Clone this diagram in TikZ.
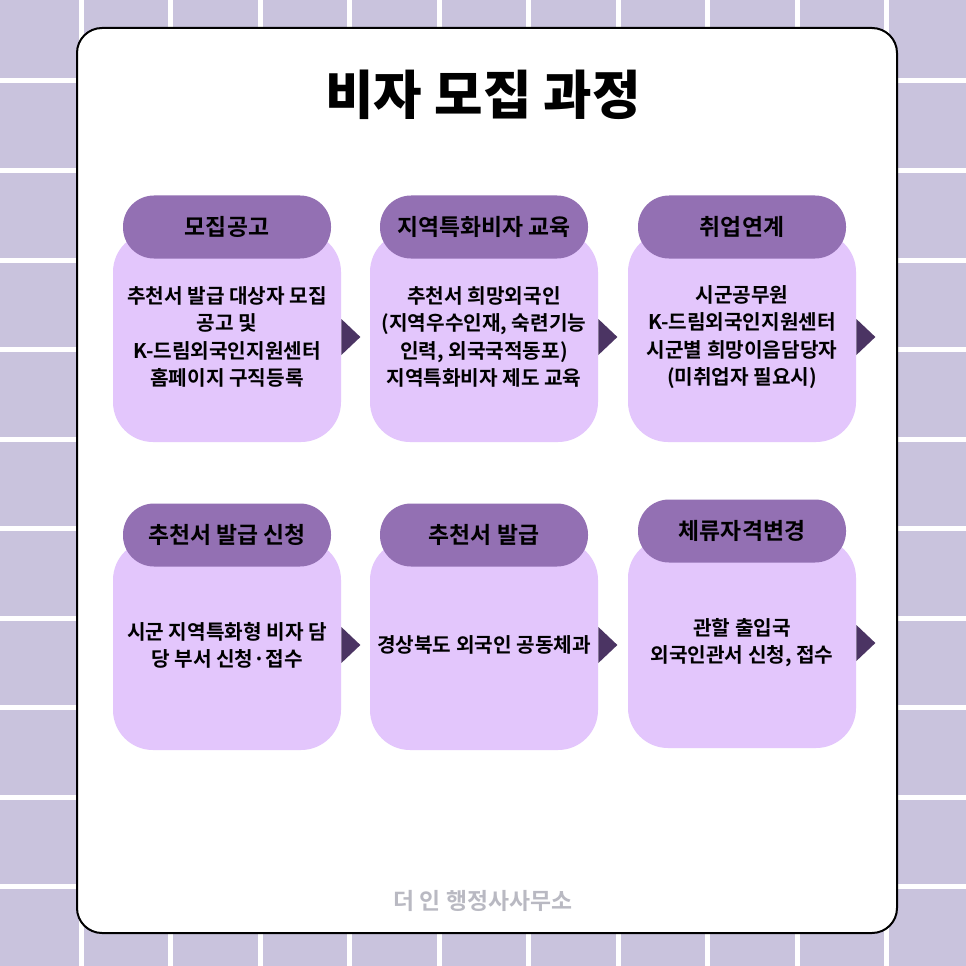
\documentclass[tikz,border=0pt]{standalone}
\usepackage{fontspec}
\setmainfont{Noto Sans CJK KR}[BoldFont={Noto Sans CJK KR Bold}]
\newfontfamily\heavyfont{Noto Sans CJK KR Black}
\usetikzlibrary{positioning}
\definecolor{tile}{HTML}{C9C3DD}
\definecolor{pill}{HTML}{9370B3}
\definecolor{card}{HTML}{E3C6FC}
\definecolor{tip}{HTML}{4B3463}
\definecolor{foot}{HTML}{B9B9C2}
\tikzset{
  cardbox/.style={fill=card, rounded corners=40*0.02cm, minimum width=228*0.02cm, minimum height=210*0.02cm, inner sep=0pt},
  pillbox/.style={fill=pill, rounded corners=31*0.02cm, minimum width=208*0.02cm, minimum height=63*0.02cm, font=\bfseries\fontsize{13}{15}\selectfont},
  bodytext/.style={align=center, font=\bfseries\fontsize{11.5}{15.5}\selectfont},
  tipmark/.style={fill=tip}
}
\begin{document}
\begin{tikzpicture}[x=0.02cm,y=-0.02cm]
	\useasboundingbox (0,0) rectangle (966,966);
	% tiled background
	\fill[tile] (0,0) rectangle (966,966);
	\foreach \k in {0,...,11} {
		\fill[white] ({-11+89.5*\k},0) rectangle ({-6+89.5*\k},966);
		\fill[white] (0,{-11+89.5*\k}) rectangle (966,{-6+89.5*\k});
	}
	\draw[fill=white, line width=2*0.02cm, rounded corners=25*0.02cm] (77,28) rectangle (897,933);
	\node (title) at (483,95) {\heavyfont\fontsize{30}{34}\selectfont 비자 모집 과정};
	% first row
	\node[cardbox] (c1) at (227,337) {};
	\node[cardbox] (c2) at (484,337) {};
	\node[cardbox] (c3) at (742,337) {};
	\node[pillbox] (p1) at (227,227) {모집공고};
	\node[pillbox] (p2) at (484,227) {지역특화비자 교육};
	\node[pillbox] (p3) at (742,227) {취업연계};
	\node[bodytext] at (c1.center) {추천서 발급 대상자 모집\\공고 및\\K-드림외국인지원센터\\홈페이지 구직등록};
	\node[bodytext] at (c2.center) {추천서 희망외국인\\(지역우수인재, 숙련기능\\인력, 외국국적동포)\\지역특화비자 제도 교육};
	\node[bodytext] at (c3.center) {시군공무원\\K-드림외국인지원센터\\시군별 희망이음담당자\\(미취업자 필요시)};
	% second row
	\node[cardbox] (c4) at (227,645) {};
	\node[cardbox] (c5) at (484,645) {};
	\node[cardbox] (c6) at (742,643) {};
	\node[pillbox] (p4) at (227,535) {추천서 발급 신청};
	\node[pillbox] (p5) at (484,535) {추천서 발급};
	\node[pillbox] (p6) at (742,531) {체류자격변경};
	\node[bodytext] at (c4.center) {시군 지역특화형 비자 담\\당 부서 신청·접수};
	\node[bodytext] at (c5.center) {경상북도 외국인 공동체과};
	\node[bodytext] at (c6.center) {관할 출입국\\외국인관서 신청, 접수};
	% arrow tips
	\foreach \c in {c1,c2,c3,c4,c5,c6}
		\fill[tipmark] (\c.east) ++(0,-18) -- ++(19,18) -- ++(-19,18) -- cycle;
	\node[text=foot, font=\bfseries\fontsize{13}{15}\selectfont] (footer) at (483,901) {더 인 행정사사무소};
\end{tikzpicture}
\end{document}
